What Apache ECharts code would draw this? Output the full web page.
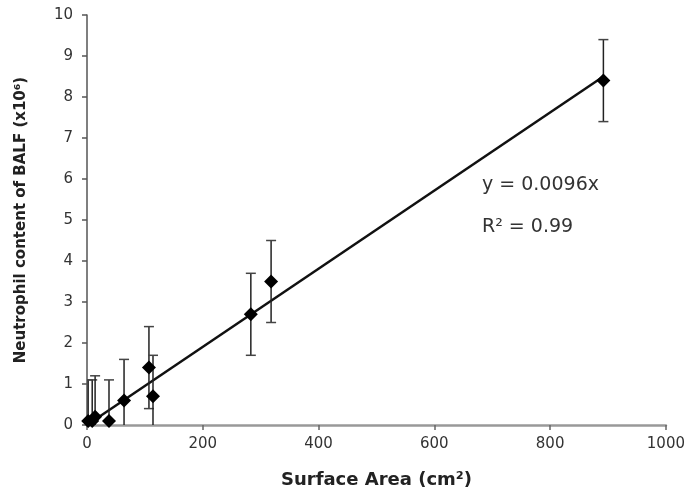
<!DOCTYPE html>
<html>
<head>
<meta charset="utf-8">
<script src="https://cdn.jsdelivr.net/npm/echarts@6/dist/echarts.min.js"></script>
<style>
html,body{margin:0;padding:0;background:#fff;}
#chart{width:688px;height:498px;}
</style>
</head>
<body>
<div id="chart"></div>
<script>
// Data
var surfaceArea = [2, 9, 14, 38, 64, 107, 114, 283, 318, 892];
var neutrophils = [0.1, 0.1, 0.2, 0.1, 0.6, 1.4, 0.7, 2.7, 3.5, 8.4];
var errors      = [1.0, 1.0, 1.0, 1.0, 1.0, 1.0, 1.0, 1.0, 1.0, 1.0];
var trendX = [0, 892];
var trendY = [0, 8.5];
var xTicks = [0, 200, 400, 600, 800, 1000];
var yTicks = [0, 1, 2, 3, 4, 5, 6, 7, 8, 9, 10];
var equationText = 'y = 0.0096x';
var r2Text = 'R\u00B2 = 0.99';

var points = surfaceArea.map(function (x, i) { return [x, neutrophils[i]]; });
var errData = surfaceArea.map(function (x, i) {
  return [x, neutrophils[i] - errors[i], neutrophils[i] + errors[i]];
});
var trendData = trendX.map(function (x, i) { return [x, trendY[i]]; });

var chart = echarts.init(document.getElementById('chart'));
var font = 'DejaVu Sans';
chart.setOption({
  animation: false,
  backgroundColor: '#fff',
  grid: { left: 87, right: 21, top: 15, bottom: 73, containLabel: false },
  xAxis: {
    type: 'value', min: xTicks[0], max: xTicks[xTicks.length - 1], interval: 200,
    name: 'Surface Area (cm\u00B2)', nameLocation: 'middle', nameGap: 46,
    nameTextStyle: { fontFamily: font, fontWeight: 'bold', fontSize: 18, color: '#222' },
    axisLine: { lineStyle: { color: '#999', width: 2.5 } },
    axisTick: { show: true, inside: false, length: 5, lineStyle: { color: '#666', width: 1.5 } },
    axisLabel: { fontFamily: font, fontSize: 15, color: '#333', margin: 12,
      formatter: function (v) { return String(v); } },
    splitLine: { show: false }
  },
  yAxis: {
    type: 'value', min: yTicks[0], max: yTicks[yTicks.length - 1], interval: 1,
    name: 'Neutrophil content of BALF (x10\u2076)', nameLocation: 'middle', nameGap: 58,
    nameTextStyle: { fontFamily: font, fontWeight: 'bold', fontSize: 15, color: '#222' },
    axisLine: { lineStyle: { color: '#555', width: 1.5 } },
    axisTick: { show: true, inside: false, length: 5, lineStyle: { color: '#555', width: 1.5 } },
    axisLabel: { fontFamily: font, fontSize: 15, color: '#333', margin: 14,
      formatter: function (v) { return String(v); } },
    splitLine: { show: false }
  },
  series: [
    {
      type: 'line', data: trendData, symbol: 'none',
      lineStyle: { color: '#111', width: 2.5 }, z: 2
    },
    {
      type: 'custom', data: errData, z: 3, clip: true,
      renderItem: function (params, api) {
        var x = api.value(0);
        var lo = api.value(1), hi = api.value(2);
        var top = api.coord([x, hi]);
        var bot = api.coord([x, Math.max(lo, 0)]);
        var half = 5;
        var children = [
          { type: 'line', shape: { x1: top[0], y1: top[1], x2: bot[0], y2: bot[1] },
            style: { stroke: '#222', lineWidth: 1.5 } },
          { type: 'line', shape: { x1: top[0] - half, y1: top[1], x2: top[0] + half, y2: top[1] },
            style: { stroke: '#444', lineWidth: 1.5 } }
        ];
        if (lo >= 0) {
          children.push({ type: 'line', shape: { x1: bot[0] - half, y1: bot[1], x2: bot[0] + half, y2: bot[1] },
            style: { stroke: '#444', lineWidth: 1.5 } });
        }
        return { type: 'group', children: children };
      }
    },
    {
      type: 'scatter', data: points, symbol: 'diamond', symbolSize: [14, 14],
      itemStyle: { color: '#000', opacity: 1 }, z: 4
    }
  ],
  graphic: [
    { type: 'text', left: 482, top: 176,
      style: { text: equationText, font: '19px "DejaVu Sans"', fill: '#333' } },
    { type: 'text', left: 482, top: 218,
      style: { text: r2Text, font: '19px "DejaVu Sans"', fill: '#333' } }
  ]
});
</script>
</body>
</html>
